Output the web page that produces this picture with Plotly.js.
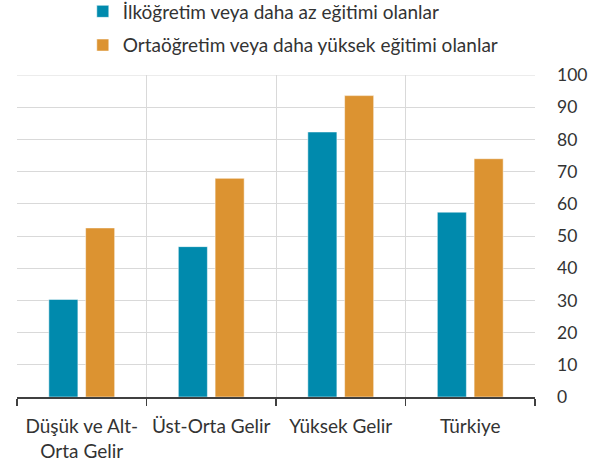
<!DOCTYPE html>
<html>
<head>
<meta charset="utf-8">
<script src="https://cdn.plot.ly/plotly-3.0.1.min.js"></script>
<style>html,body{margin:0;padding:0;background:#fff;}#chart{width:606px;height:471px;}</style>
</head>
<body>
<div id="chart"></div>
<script>
const categories = ["Düşük ve Alt-<br>Orta Gelir", "Üst-Orta Gelir", "Yüksek Gelir", "Türkiye"];
const seriesNames = ["İlköğretim veya daha az eğitimi olanlar", "Ortaöğretim veya daha yüksek eğitimi olanlar"];
const primaryValues = [30.3, 46.7, 82.3, 57.4];
const secondaryValues = [52.5, 67.9, 93.6, 74.0];
const yTicks = [0, 10, 20, 30, 40, 50, 60, 70, 80, 90, 100];

const font = "Lato, 'Open Sans', sans-serif";
const textColor = "#333333";
const traces = [
  {type: "bar", x: categories, y: primaryValues, name: seriesNames[0], legendgroup: "a",
   marker: {color: "#008AAD", line: {color: "#ffffff", width: 0.5}}},
  {type: "bar", x: categories, y: secondaryValues, name: seriesNames[1], legendgroup: "b",
   marker: {color: "#DC9331", line: {color: "#ffffff", width: 0.5}}}
];
const layout = {
  width: 606, height: 471,
  margin: {l: 17, r: 71, t: 75, b: 74},
  paper_bgcolor: "#fff", plot_bgcolor: "#fff",
  font: {family: font, color: textColor, size: 19},
  barmode: "group", bargap: 0.432, bargroupgap: 0.21,
  showlegend: true,
  legend: {x: 0.127, xanchor: "left", xref: "paper", y: 0.9395, yref: "container", yanchor: "middle", orientation: "v",
           traceorder: "grouped", tracegroupgap: 6, font: {family: font, size: 19, color: textColor},
           itemwidth: 30, bgcolor: "rgba(0,0,0,0)"},
  xaxis: {type: "category", tickson: "boundaries", showgrid: true, gridcolor: "#d9d9d9", gridwidth: 1,
          ticks: "outside", ticklen: 7, tickcolor: "#404040", tickwidth: 1.5,
          showline: true, linecolor: "#404040", linewidth: 1.5, ticklabelstandoff: 12,
          tickfont: {family: font, size: 19, color: textColor}, fixedrange: true},
  yaxis: {side: "right", range: [0, 100], tickvals: yTicks, ticktext: yTicks.map(String),
          showgrid: true, gridcolor: "#d9d9d9", gridwidth: 1, zeroline: false, ticks: "",
          ticklabelstandoff: 21,
          tickfont: {family: font, size: 17.5, color: textColor}, fixedrange: true},
  shapes: [{type: "line", xref: "paper", yref: "y", x0: 0, x1: 1, y0: 100, y1: 100,
            line: {color: "#d9d9d9", width: 1}}]
};
Plotly.newPlot("chart", traces, layout, {displayModeBar: false, staticPlot: true});
</script>
</body>
</html>
